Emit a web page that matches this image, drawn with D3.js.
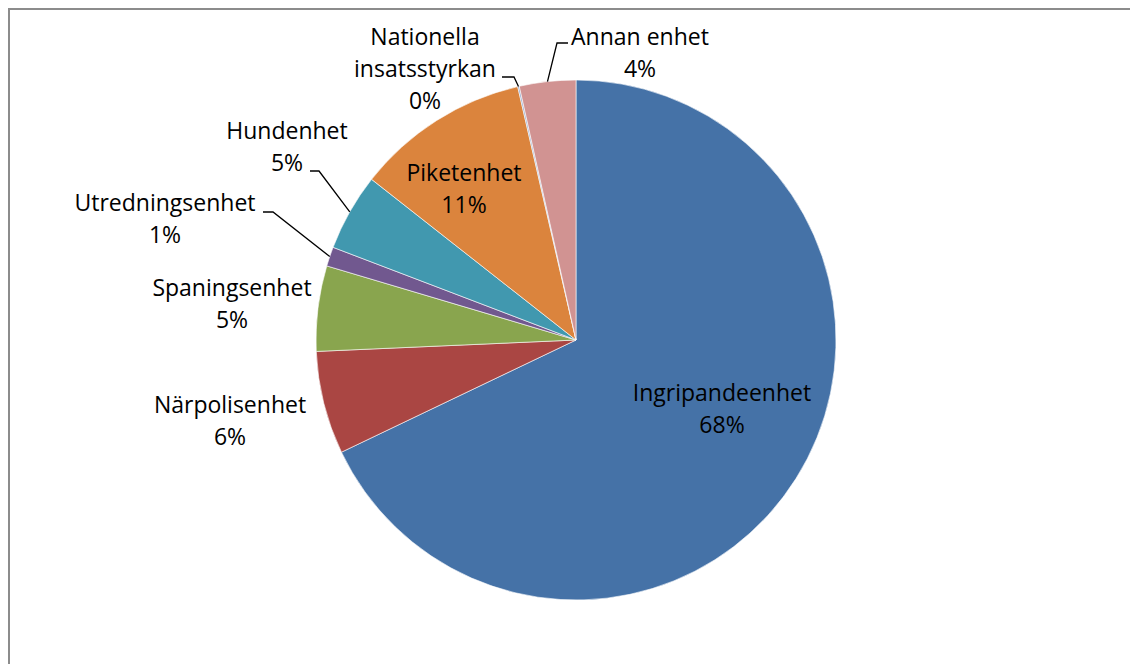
<!DOCTYPE html>
<html>
<head>
<meta charset="utf-8">
<script src="https://cdn.jsdelivr.net/npm/d3@7"></script>
<style>
  body { margin: 0; background: #fff; }
  text { font-family: "Open Sans", sans-serif; font-size: 23px; fill: #000; }
</style>
</head>
<body>
<div id="vis"></div>
<script>
// data
const categories = ["Ingripandeenhet", "Närpolisenhet", "Spaningsenhet", "Utredningsenhet",
                    "Hundenhet", "Piketenhet", "Nationella insatsstyrkan", "Annan enhet"];
const values = [67.9, 6.4, 5.3, 1.2, 4.8, 10.8, 0.1, 3.5];
const colors = ["#4572A7", "#AA4643", "#89A54E", "#71588F", "#4198AF", "#DB843D", "#93A9CF", "#D19392"];

// label lines (text) per category
const labelLines = [
  ["Ingripandeenhet"], ["Närpolisenhet"], ["Spaningsenhet"], ["Utredningsenhet"],
  ["Hundenhet"], ["Piketenhet"], ["Nationella", "insatsstyrkan"], ["Annan enhet"]
];

const W = 1130, H = 664;
const CX = 576, CY = 340, R = 260;
const LINE_H = 32;

// label layout: centre x, first baseline y, leader (null = none)
const layout = [
  { x: 722, y: 401 },
  { x: 230, y: 413 },
  { x: 232, y: 296 },
  { x: 165, y: 211, leader: [[263, 212], [273, 212]] },
  { x: 287, y: 139, leader: [[310, 171], [319, 171]] },
  { x: 464, y: 181 },
  { x: 425, y: 45,  leader: [[502, 77], [514, 77]] },
  { x: 640, y: 45,  leader: [[568, 43], [557, 43]] }
];

const svg = d3.select("#vis").append("svg").attr("width", W).attr("height", H);

// plot border
svg.append("rect")
  .attr("x", 9).attr("y", 9).attr("width", W + 10).attr("height", H + 10)
  .attr("fill", "none").attr("stroke", "#8c8c8c").attr("stroke-width", 2);

const pie = d3.pie().sort(null).value(d => d)(values);
const arc = d3.arc().innerRadius(0).outerRadius(R);

const g = svg.append("g").attr("transform", `translate(${CX},${CY})`);

g.selectAll("path")
  .data(pie)
  .join("path")
  .attr("d", arc)
  .attr("fill", (d, i) => colors[i])
  .attr("stroke", "#fff")
  .attr("stroke-width", 0.6);

// leader lines: from label end to the slice edge at mid angle
const leaders = svg.append("g");
pie.forEach((d, i) => {
  const l = layout[i];
  if (!l.leader) return;
  const a = (d.startAngle + d.endAngle) / 2;
  const edge = [CX + R * Math.sin(a), CY - R * Math.cos(a)];
  const pts = [l.leader[0], l.leader[1], edge];
  leaders.append("path")
    .attr("d", d3.line()(pts))
    .attr("fill", "none")
    .attr("stroke", "#000")
    .attr("stroke-width", 1.3);
});

// labels
const labels = svg.append("g");
pie.forEach((d, i) => {
  const l = layout[i];
  const lines = labelLines[i].concat([Math.round(values[i]) + "%"]);
  const t = labels.append("text").attr("text-anchor", "middle");
  lines.forEach((s, k) => {
    t.append("tspan").attr("x", l.x).attr("y", l.y + k * LINE_H).text(s);
  });
});
</script>
</body>
</html>
